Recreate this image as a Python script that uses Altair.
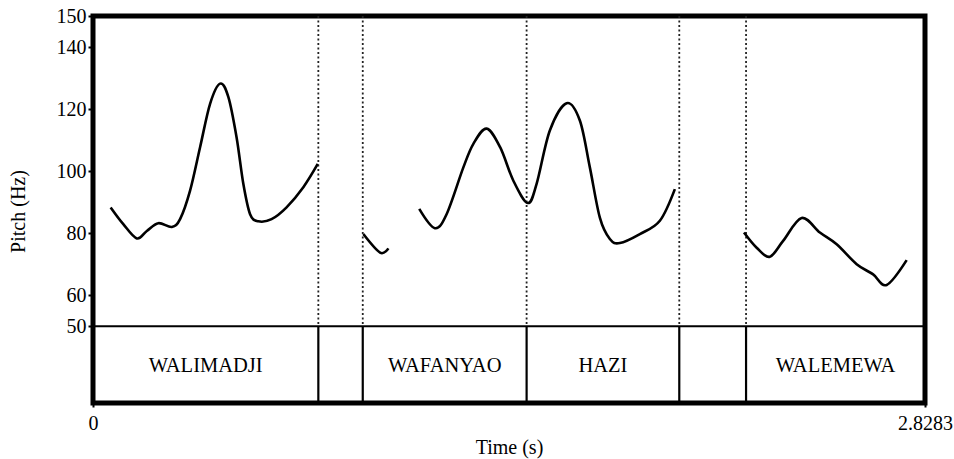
import altair as alt
import pandas as pd

FONT = "Liberation Serif"
T_END = 2.8283

# Pitch contour (s, Hz), one list per voiced stretch
seg1_t = [0.060, 0.103, 0.149, 0.183, 0.222, 0.268, 0.296, 0.330, 0.364, 0.398,
          0.432, 0.460, 0.488, 0.511, 0.534, 0.562, 0.607, 0.658, 0.715, 0.764]
seg1_hz = [88.3, 82.9, 78.3, 80.7, 83.2, 82.0, 84.5, 93.7, 107.7, 121.7,
           128.2, 123.9, 110.9, 95.9, 86.1, 83.8, 84.5, 88.3, 94.8, 102.3]

seg2_t = [0.919, 0.976, 1.004]
seg2_hz = [79.7, 73.7, 75.1]

seg3_t = [1.109, 1.162, 1.202, 1.259, 1.293, 1.338, 1.384, 1.429, 1.478, 1.508,
          1.553, 1.610, 1.655, 1.689, 1.723, 1.757, 1.791, 1.859, 1.927, 1.978]
seg3_hz = [87.8, 81.6, 86.1, 101.2, 108.8, 113.7, 107.7, 96.9, 89.7, 95.9,
           113.1, 121.9, 116.3, 101.2, 85.0, 78.1, 76.8, 79.7, 84.0, 94.2]

seg4_t = [2.213, 2.256, 2.301, 2.346, 2.409, 2.471, 2.528, 2.596, 2.652, 2.698, 2.766]
seg4_hz = [80.2, 75.3, 72.4, 77.5, 84.9, 80.2, 76.4, 70.0, 66.7, 63.3, 71.3]

# Word tier
boundaries = [0.766, 0.917, 1.474, 1.993, 2.220]
interval_start = [0.0, 0.766, 0.917, 1.474, 1.993, 2.220]
interval_end = [0.766, 0.917, 1.474, 1.993, 2.220, T_END]
interval_label = ["WALIMADJI", "", "WAFANYAO", "HAZI", "", "WALEMEWA"]

y_ticks = [50, 60, 80, 100, 120, 140, 150]
x_ticks = [0, T_END]

W, H = 832, 387
Y_DOMAIN = [25.24, 150]
TIER_Y = 37.3

rows = []
for sid, (ts, hs) in enumerate([(seg1_t, seg1_hz), (seg2_t, seg2_hz),
                                (seg3_t, seg3_hz), (seg4_t, seg4_hz)]):
    rows += [{"seg": sid, "t": t, "hz": h} for t, h in zip(ts, hs)]
pitch = pd.DataFrame(rows)
bounds = pd.DataFrame({"t": boundaries})
tier = pd.DataFrame({"start": interval_start, "end": interval_end,
                     "label": interval_label})

x_scale = alt.Scale(domain=[0, T_END], nice=False, zero=False)
y_scale = alt.Scale(domain=Y_DOMAIN, nice=False, zero=False)

x_axis = alt.Axis(values=x_ticks, title="Time (s)", grid=False, domain=False,
                  tickSize=4, tickWidth=2, tickColor="black", labelPadding=6,
                  labelFlush=False, labelOverlap=False,
                  labelExpr="datum.value == 0 ? '0' : '2.8283'",
                  titlePadding=4)
y_axis = alt.Axis(values=y_ticks, title="Pitch (Hz)", grid=False, domain=False,
                  tickSize=5, tickWidth=2, tickColor="black", labelPadding=2,
                  titleX=-75, titleY=195, titleAngle=270, titleAlign="center",
                  titleBaseline="middle")

contour = alt.Chart(pitch).mark_line(
    color="black", strokeWidth=2.6, interpolate="cardinal"
).encode(
    x=alt.X("t:Q", scale=x_scale, axis=x_axis),
    y=alt.Y("hz:Q", scale=y_scale, axis=y_axis),
    detail="seg:N",
)

dotted = alt.Chart(bounds).mark_rule(
    color="#222222", strokeWidth=1.8, strokeDash=[2, 2.5]
).encode(
    x=alt.X("t:Q", scale=x_scale),
    y=alt.datum(150, scale=y_scale),
    y2=alt.datum(50),
)

solid = alt.Chart(bounds).mark_rule(color="black", strokeWidth=2.2).encode(
    x=alt.X("t:Q", scale=x_scale),
    y=alt.datum(50, scale=y_scale),
    y2=alt.value(H),
)

tier_line = alt.Chart(pd.DataFrame({"hz": [50]})).mark_rule(
    color="black", strokeWidth=2
).encode(
    y=alt.Y("hz:Q", scale=y_scale),
    x=alt.value(0),
    x2=alt.value(W),
)

words = alt.Chart(tier).transform_calculate(
    mid="(datum.start + datum.end) / 2"
).mark_text(font=FONT, fontSize=20.5, color="black", baseline="middle").encode(
    x=alt.X("mid:Q", scale=x_scale),
    y=alt.datum(TIER_Y, scale=y_scale),
    text="label:N",
)

chart = alt.layer(dotted, solid, tier_line, contour, words).properties(
    width=W, height=H,
    autosize=alt.AutoSizeParams(type="none"),
    padding={"left": 93, "top": 16, "right": 29, "bottom": 56},
).configure_view(
    stroke="black", strokeWidth=5
).configure_axis(
    labelFont=FONT, titleFont=FONT, labelFontSize=20, titleFontSize=20,
    labelColor="black", titleColor="black", titleFontWeight="normal",
)

chart.save("out.html", embed_options={"renderer": "svg", "actions": False})
